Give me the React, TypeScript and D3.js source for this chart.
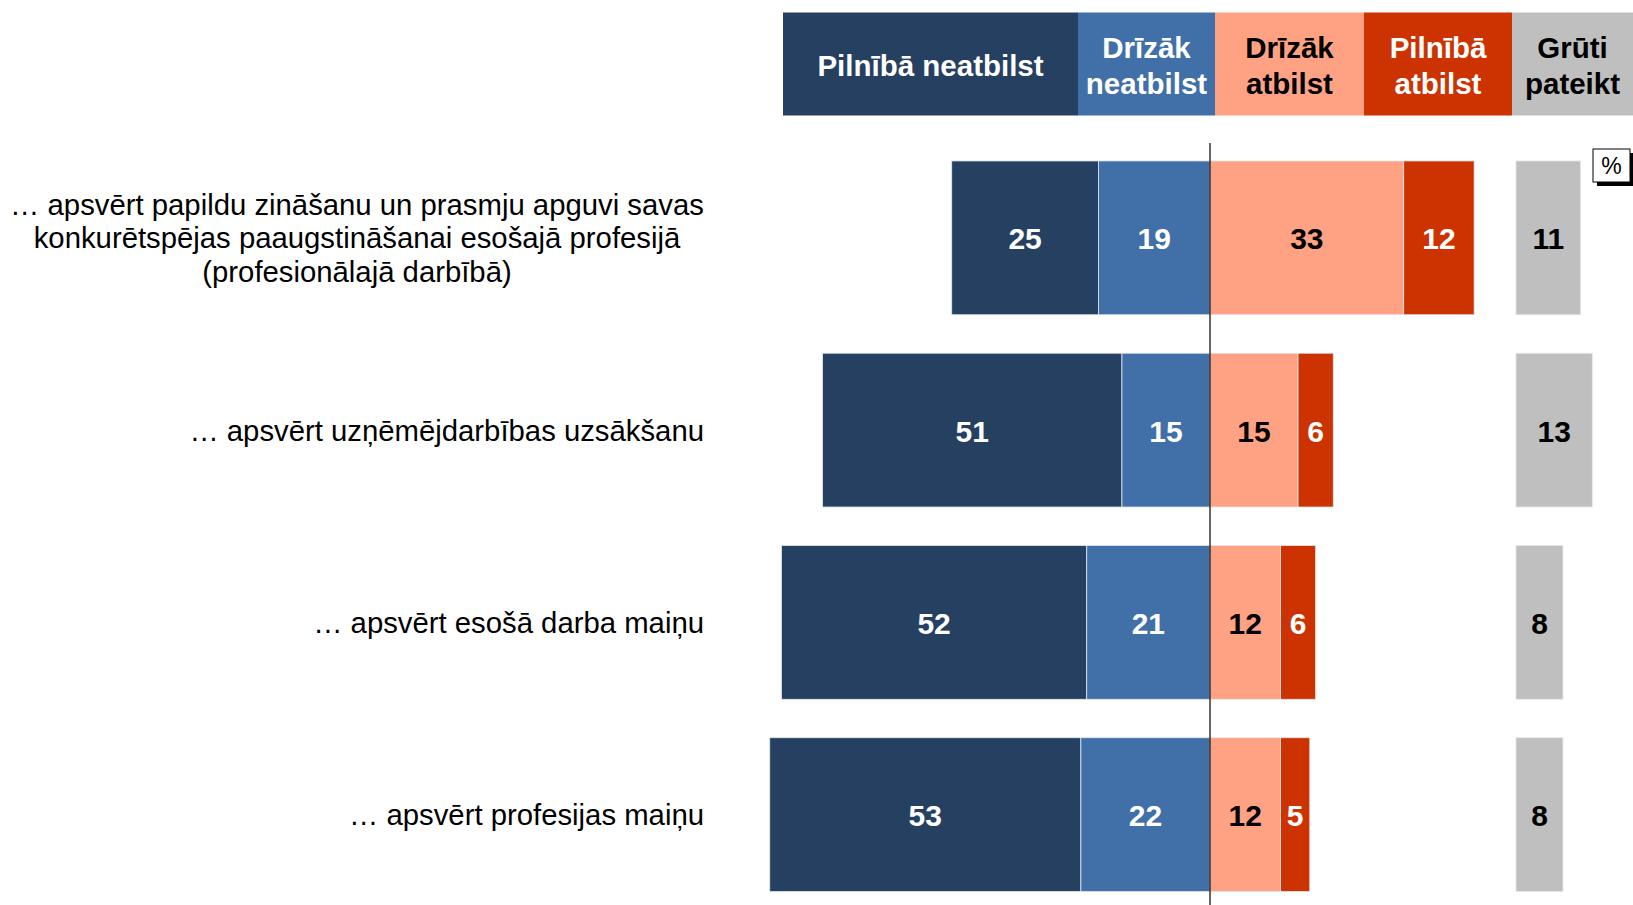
import React from 'react';
import * as d3 from 'd3';

// statements (row labels, split into lines as in the source)
const statements: string[][] = [
  ['… apsvērt papildu zināšanu un prasmju apguvi savas', 'konkurētspējas paaugstināšanai esošajā profesijā', '(profesionālajā darbībā)'],
  ['… apsvērt uzņēmējdarbības uzsākšanu'],
  ['… apsvērt esošā darba maiņu'],
  ['… apsvērt profesijas maiņu'],
];

const seriesNames = ['Pilnībā neatbilst', 'Drīzāk neatbilst', 'Drīzāk atbilst', 'Pilnībā atbilst', 'Grūti pateikt'];
const legendLines = [['Pilnībā neatbilst'], ['Drīzāk', 'neatbilst'], ['Drīzāk', 'atbilst'], ['Pilnībā', 'atbilst'], ['Grūti', 'pateikt']];

// values, %
const fullyDisagree = [25, 51, 52, 53];
const ratherDisagree = [19, 15, 21, 22];
const ratherAgree = [33, 15, 12, 12];
const fullyAgree = [12, 6, 6, 5];
const hardToSay = [11, 13, 8, 8];

const colors = ['#264061', '#416fa7', '#ffa284', '#cc3300', '#bfbfbf'];
const textColors = ['#fff', '#fff', '#000', '#fff', '#000'];

const width = 1633;
const height = 905;
const FONT = '"Liberation Sans", Arial, sans-serif';

export default function App() {
  const pxPerUnit = 5.87;
  const zeroX = 1210;
  const x = d3.scaleLinear().domain([0, 1]).range([zeroX, zeroX + pxPerUnit]);
  const grayStart = 1516;
  const xGray = d3.scaleLinear().domain([0, 1]).range([grayStart, grayStart + pxPerUnit]);

  const y = d3.scaleBand<number>()
    .domain(statements.map((_, i) => i))
    .range([122.5, 930])
    .paddingInner(0.2)
    .paddingOuter(0.2);

  // legend header columns (layout)
  const legendEdges = [783, 1078, 1215, 1364, 1512, 1633];

  const rows = statements.map((_, i) => {
    const segs: { x0: number; x1: number; v: number; s: number }[] = [];
    segs.push({ x0: x(-(ratherDisagree[i] + fullyDisagree[i])), x1: x(-ratherDisagree[i]), v: fullyDisagree[i], s: 0 });
    segs.push({ x0: x(-ratherDisagree[i]), x1: x(0), v: ratherDisagree[i], s: 1 });
    segs.push({ x0: x(0), x1: x(ratherAgree[i]), v: ratherAgree[i], s: 2 });
    segs.push({ x0: x(ratherAgree[i]), x1: x(ratherAgree[i] + fullyAgree[i]), v: fullyAgree[i], s: 3 });
    segs.push({ x0: xGray(0), x1: xGray(hardToSay[i]), v: hardToSay[i], s: 4 });
    return segs;
  });

  return (
    <svg width={width} height={height} style={{ position: 'absolute', left: 0, top: 0, background: '#fff' }} fontFamily={FONT}>
      {/* header legend */}
      {seriesNames.map((name, k) => {
        const x0 = legendEdges[k];
        const x1 = legendEdges[k + 1];
        const lines = legendLines[k];
        const cy = 65;
        const lh = 36;
        return (
          <g key={name}>
            <rect x={x0} y={12.5} width={x1 - x0} height={103} fill={colors[k]} />
            {lines.map((ln, j) => (
              <text key={j} x={(x0 + x1) / 2} y={cy + (j - (lines.length - 1) / 2) * lh}
                textAnchor="middle" dominantBaseline="central" fontSize={29.5} fontWeight="bold" fill={textColors[k]}>
                {ln}
              </text>
            ))}
          </g>
        );
      })}

      {/* bars */}
      {rows.map((segs, i) => {
        const y0 = y(i)!;
        const bh = y.bandwidth();
        const cy = y0 + bh / 2;
        const lines = statements[i];
        return (
          <g key={i}>
            {segs.map((sg) => (
              <rect key={sg.s} x={sg.x0} y={y0} width={sg.x1 - sg.x0} height={bh}
                fill={colors[sg.s]} stroke="#e3e8ef" strokeWidth={0.8} />
            ))}
            {segs.map((sg) => (
              <text key={'t' + sg.s} x={(sg.x0 + sg.x1) / 2} y={cy + 1} textAnchor="middle" dominantBaseline="central"
                fontSize={30} fontWeight="bold" fill={textColors[sg.s]}>
                {sg.v}
              </text>
            ))}
            {lines.map((ln, j) => (
              <text key={'l' + j}
                x={lines.length > 1 ? 357 : 704}
                y={cy + (j - (lines.length - 1) / 2) * 33.6}
                textAnchor={lines.length > 1 ? 'middle' : 'end'} dominantBaseline="central"
                fontSize={29.3} fill="#000">
                {ln}
              </text>
            ))}
          </g>
        );
      })}

      {/* zero line */}
      <line x1={x(0)} x2={x(0)} y1={143} y2={height} stroke="#000" strokeWidth={1.2} />

      {/* % box */}
      <rect x={1597} y={153} width={37} height={33} fill="#000" />
      <rect x={1593} y={149} width={37} height={33} fill="#fff" stroke="#000" strokeWidth={1} />
      <text x={1611.5} y={166} textAnchor="middle" dominantBaseline="central" fontSize={23} fill="#000">%</text>
    </svg>
  );
}
